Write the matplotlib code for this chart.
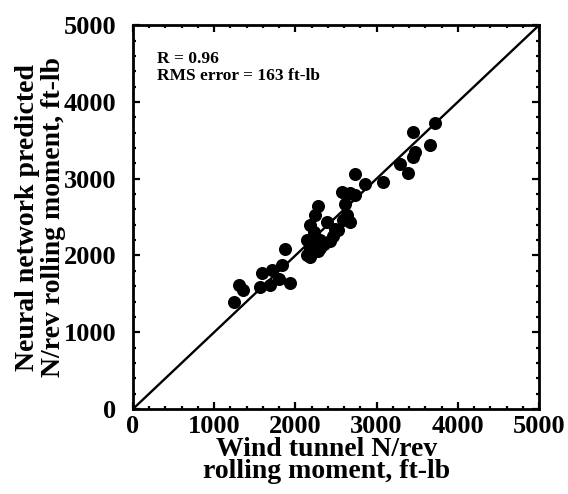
import matplotlib
matplotlib.use("Agg")
import matplotlib.pyplot as plt
from matplotlib.ticker import MultipleLocator

matplotlib.rcParams.update({
    "font.family": "Liberation Serif",
    "font.weight": "bold",
    "axes.labelweight": "bold",
})

# wind tunnel vs. network predicted N/rev rolling moment (ft-lb)
wind_tunnel = [1244, 1312, 1355, 1564, 1589, 1687, 1712, 1798, 1835, 1872,
               1933, 2143, 2180, 2198, 2180, 2241, 2278, 2284, 2303, 2426,
               2389, 2488, 2525, 2586, 2635, 2672, 2611, 2574, 2672, 2734,
               2857, 3079, 3288, 3387, 3445, 3445, 3473, 3658, 3725, 2139,
               2303, 2180, 2734, 2230, 2350, 2460]
predicted = [1393, 1621, 1549, 1588, 1777, 1614, 1816, 1693, 1875, 2079,
             1647, 2005, 2096, 2220, 2396, 2532, 2643, 2057, 2200, 2187,
             2435, 2350, 2331, 2461, 2526, 2439, 2669, 2825, 2808, 3060,
             2930, 2959, 3190, 3079, 3607, 3281, 3346, 3444, 3730, 2200,
             2092, 1983, 2787, 2300, 2150, 2250]

fit_r = 0.96
rms_error = 163
axis_max = 5000

fig = plt.figure(figsize=(5.68, 4.94), dpi=100)
ax = fig.add_axes([0.234, 0.172, 0.715, 0.777])

# perfect-agreement line
ax.plot([0, axis_max], [0, axis_max], color="black", linewidth=1.7, zorder=2)
ax.plot(wind_tunnel, predicted, "o", color="black", markersize=9.4,
        markeredgewidth=0, zorder=3)

ax.set_xlim(0, axis_max)
ax.set_ylim(0, axis_max)
ax.xaxis.set_major_locator(MultipleLocator(1000))
ax.yaxis.set_major_locator(MultipleLocator(1000))
ax.xaxis.set_minor_locator(MultipleLocator(200))
ax.yaxis.set_minor_locator(MultipleLocator(200))
ax.tick_params(which="both", direction="in", top=True, right=True,
               width=1.6, labelsize=19)
ax.tick_params(which="major", length=5)
ax.tick_params(which="minor", length=2.5)
ax.tick_params(axis="x", pad=4)
ax.tick_params(axis="y", pad=12)
for spine in ax.spines.values():
    spine.set_linewidth(2.0)

ax.set_xlabel("Wind tunnel N/rev\nrolling moment, ft-lb", fontsize=20,
              linespacing=0.85)
ax.xaxis.set_label_coords(0.478, -0.072)
ax.set_ylabel("Neural network predicted\nN/rev rolling moment, ft-lb",
              fontsize=20, linespacing=1.05)
ax.yaxis.set_label_coords(-0.165, 0.5)

ax.text(0.059, 0.932, f"R = {fit_r}\nRMS error = {rms_error} ft-lb",
        transform=ax.transAxes, fontsize=12.5, fontweight="bold",
        va="top", ha="left", linespacing=1.05)

fig.savefig("out.png", dpi=100)
